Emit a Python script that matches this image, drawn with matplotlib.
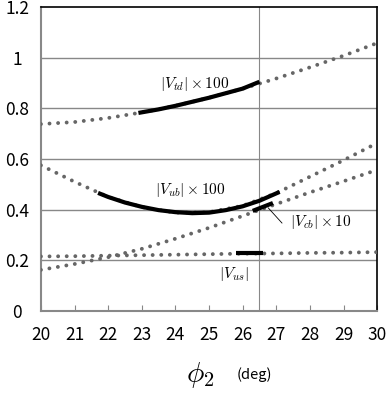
import matplotlib
matplotlib.use("Agg")
import matplotlib.pyplot as plt

plt.rcParams['font.family'] = ['Noto Sans CJK JP', 'DejaVu Sans']
plt.rcParams['mathtext.fontset'] = 'cm'

# phi2 grid (deg)
x = [20, 21, 22, 23, 24, 25, 26, 27, 28, 29, 30]
# dotted curves (full range)
vtd = [0.738, 0.746, 0.762, 0.784, 0.810, 0.842, 0.878, 0.918, 0.962, 1.008, 1.058]
vub = [0.575, 0.510, 0.450, 0.410, 0.388, 0.390, 0.415, 0.465, 0.530, 0.595, 0.663]
vcb = [0.162, 0.185, 0.212, 0.245, 0.285, 0.328, 0.375, 0.422, 0.468, 0.512, 0.557]
vus = [0.215, 0.216, 0.218, 0.220, 0.222, 0.224, 0.226, 0.227, 0.229, 0.230, 0.232]

# solid (allowed) segments
vtd_sx = [22.9, 23.5, 24, 24.5, 25, 25.5, 26, 26.5]
vtd_sy = [0.782, 0.796, 0.810, 0.826, 0.842, 0.860, 0.878, 0.905]
vub_sx = [21.7, 22, 22.5, 23, 23.5, 24, 24.5, 25, 25.5, 26, 26.5, 27.1]
vub_sy = [0.466, 0.450, 0.428, 0.411, 0.398, 0.390, 0.386, 0.388, 0.398, 0.413, 0.435, 0.470]
vcb_sx = [26.3, 26.9]
vcb_sy = [0.395, 0.426]
vus_sx = [25.8, 26.6]
vus_sy = [0.228, 0.228]

fig = plt.figure(figsize=(3.86, 3.96), dpi=100)
ax = fig.add_axes([0.106, 0.215, 0.871, 0.767])

dot = dict(color="#666666", lw=2.8, linestyle=(0, (0.01, 2.2)), dash_capstyle="round")
for yy in [vtd, vub, vcb, vus]:
    ax.plot(x, yy, **dot, zorder=3)

solid = dict(color="black", lw=3.0, solid_capstyle="butt", zorder=4)
ax.plot(vtd_sx, vtd_sy, **solid)
ax.plot(vub_sx, vub_sy, **solid)
ax.plot(vcb_sx, vcb_sy, **solid)
ax.plot(vus_sx, vus_sy, **solid)

for yv in [0.2, 0.4, 0.6, 0.8, 1.0]:
    ax.axhline(yv, color="#888888", lw=1.0, zorder=1)
ax.axvline(26.5, color="#888888", lw=0.8, zorder=1)

ax.text(23.55, 0.896, r"$|V_{td}|\times 100$", fontsize=11, va="center")
ax.text(23.4, 0.478, r"$|V_{ub}|\times 100$", fontsize=11, va="center")
ax.text(27.4, 0.351, r"$|V_{cb}|\times 10$", fontsize=11, va="center")
ax.text(25.3, 0.145, r"$|V_{us}|$", fontsize=11, va="center")
ax.plot([26.76, 27.17], [0.407, 0.347], color="black", lw=0.6)

ax.set_xlim(20, 30)
ax.set_ylim(0, 1.2)
ax.set_xticks(range(20, 31))
ax.set_yticks([0, 0.2, 0.4, 0.6, 0.8, 1.0, 1.2])
ax.set_yticklabels(["0", "0.2", "0.4", "0.6", "0.8", "1", "1.2"])
ax.tick_params(axis="x", direction="in", length=4, color="#888888", labelsize=12.5, pad=11)
ax.tick_params(axis="y", length=0, labelsize=12.5, pad=17)
for lab in ax.get_yticklabels():
    lab.set_horizontalalignment("center")

for s in ["left", "bottom"]:
    ax.spines[s].set_color("#888888")
    ax.spines[s].set_linewidth(1.5)
for s in ["top", "right"]:
    ax.spines[s].set_color("black")
    ax.spines[s].set_linewidth(1.2)

fig.text(0.518, 0.035, r"$\phi_2$", fontsize=21, ha="center")
fig.text(0.66, 0.042, "(deg)", fontsize=10.5, ha="center")

fig.savefig("out.png", dpi=100)
